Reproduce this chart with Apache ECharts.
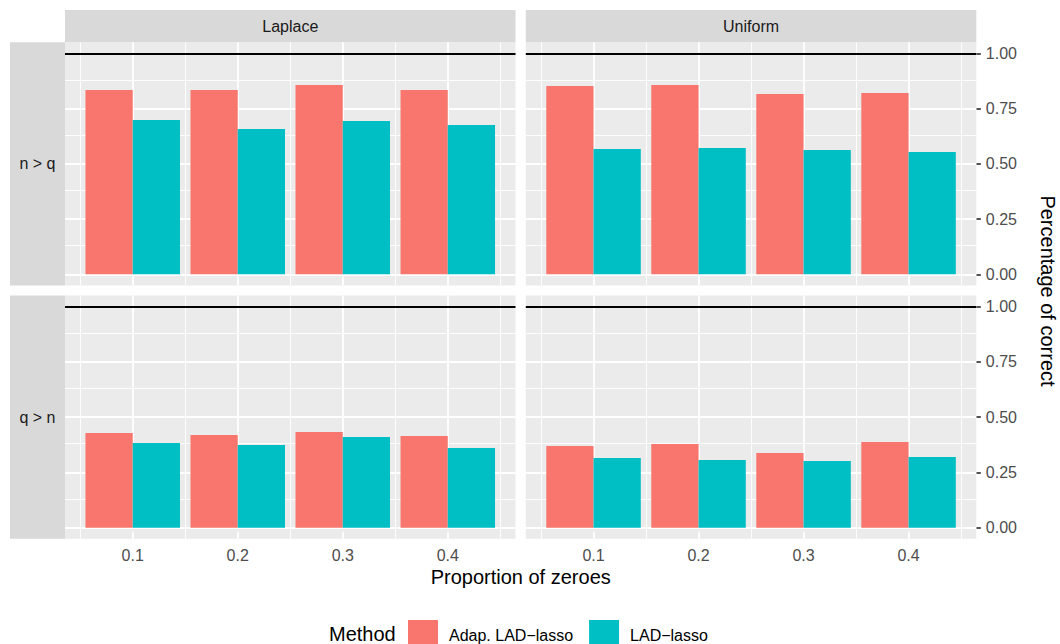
<!DOCTYPE html>
<html>
<head>
<meta charset="utf-8">
<script src="https://cdn.jsdelivr.net/npm/echarts@6/dist/echarts.min.js"></script>
<style>
html,body{margin:0;padding:0;background:#fff;}
#chart{width:1060px;height:644px;}
</style>
</head>
<body>
<div id="chart"></div>
<script>
// ---- data ----
const proportions = [0.1, 0.2, 0.3, 0.4];
const distributions = ['Laplace', 'Uniform'];
const regimes = ['n > q', 'q > n'];
const methods = ['Adap. LAD\u2212lasso', 'LAD\u2212lasso'];
const adapLaplaceNq = [0.834, 0.834, 0.857, 0.834];
const ladLaplaceNq = [0.698, 0.658, 0.694, 0.676];
const adapUniformNq = [0.852, 0.857, 0.816, 0.821];
const ladUniformNq = [0.567, 0.572, 0.563, 0.554];
const adapLaplaceQn = [0.428, 0.419, 0.433, 0.415];
const ladLaplaceQn = [0.383, 0.374, 0.410, 0.360];
const adapUniformQn = [0.370, 0.379, 0.338, 0.388];
const ladUniformQn = [0.315, 0.306, 0.302, 0.320];
const yTicks = [0, 0.25, 0.5, 0.75, 1];
const yMinorTicks = [0.125, 0.375, 0.625, 0.875];
const xMinorTicks = [0.05, 0.15, 0.25, 0.35, 0.45];
const referenceLine = 1;

// ---- layout / style ----
const colors = ['#F8766D', '#00BFC4'];
const FONT = '"Liberation Sans", Arial, Helvetica, sans-serif';
const panels = [
  {left: 65, top: 42.3, dist: 0, reg: 0, adap: adapLaplaceNq, lad: ladLaplaceNq},
  {left: 525.8, top: 42.3, dist: 1, reg: 0, adap: adapUniformNq, lad: ladUniformNq},
  {left: 65, top: 295.6, dist: 0, reg: 1, adap: adapLaplaceQn, lad: ladLaplaceQn},
  {left: 525.8, top: 295.6, dist: 1, reg: 1, adap: adapUniformQn, lad: ladUniformQn}
];
const PW = 450.5, PH = 243.1;
const halfDodge = 0.045;

const grids = [], xAxes = [], yAxes = [], series = [], graphics = [];

panels.forEach((p, i) => {
  grids.push({left: p.left, top: p.top, width: PW, height: PH, show: true,
    backgroundColor: '#EBEBEB', borderWidth: 0, containLabel: false});
  const bottomRow = p.reg === 1;
  const rightCol = p.dist === 1;
  xAxes.push({
    type: 'value', gridIndex: i, min: 0.0355, max: 0.4645,
    axisLine: {show: false},
    splitLine: {show: false},
    axisTick: {show: bottomRow, customValues: proportions, length: 4.5,
      lineStyle: {color: '#333333', width: 1.7}},
    axisLabel: {show: bottomRow, customValues: proportions, margin: 8.5,
      fontFamily: FONT, fontSize: 16, color: '#4D4D4D',
      formatter: v => String(Math.round(v * 10) / 10)}
  });
  yAxes.push({
    type: 'value', gridIndex: i, min: -0.05, max: 1.05, position: 'right',
    axisLine: {show: false},
    splitLine: {show: false},
    axisTick: {show: rightCol, customValues: yTicks, length: 4.5,
      lineStyle: {color: '#333333', width: 1.7}},
    axisLabel: {show: rightCol, customValues: yTicks, margin: 9.5,
      fontFamily: FONT, fontSize: 16, color: '#4D4D4D',
      formatter: v => v.toFixed(2)}
  });

  // grid lines (beneath bars)
  const gl = [];
  yMinorTicks.forEach(v => gl.push({yAxis: v, lineStyle: {color: '#FFFFFF', width: 0.9}}));
  xMinorTicks.forEach(v => gl.push({xAxis: v, lineStyle: {color: '#FFFFFF', width: 0.9}}));
  yTicks.forEach(v => gl.push({yAxis: v, lineStyle: {color: '#FFFFFF', width: 1.8}}));
  proportions.forEach(v => gl.push({xAxis: v, lineStyle: {color: '#FFFFFF', width: 1.8}}));
  series.push({
    type: 'line', name: 'grid' + i, xAxisIndex: i, yAxisIndex: i, data: [], z: 1,
    silent: true, animation: false,
    markLine: {silent: true, symbol: ['none', 'none'], animation: false, z: 1,
      label: {show: false}, lineStyle: {type: 'solid'}, data: gl}
  });

  [[p.adap, -1], [p.lad, 1]].forEach(([vals, side], m) => {
    series.push({
      type: 'custom', name: methods[m], xAxisIndex: i, yAxisIndex: i, z: 3,
      animation: false, itemStyle: {color: colors[m]},
      data: proportions.map((x, k) => [x, vals[k]]),
      renderItem: (params, api) => {
        const x = api.value(0), y = api.value(1);
        const x0 = side < 0 ? x - halfDodge : x;
        const x1 = side < 0 ? x : x + halfDodge;
        const a = api.coord([x0, y]);
        const b = api.coord([x1, 0]);
        return {type: 'rect', shape: {x: a[0], y: a[1], width: b[0] - a[0], height: b[1] - a[1]},
          style: {fill: colors[m]}};
      }
    });
  });

  // reference line at 1 (hline)
  series.push({
    type: 'line', name: 'ref' + i, xAxisIndex: i, yAxisIndex: i, data: [], z: 5,
    silent: true, animation: false,
    markLine: {silent: true, symbol: ['none', 'none'], animation: false, z: 5,
      label: {show: false},
      lineStyle: {type: 'solid', color: '#000000', width: 1.8},
      data: [{yAxis: referenceLine}]}
  });
});

// strips
distributions.forEach((d, j) => {
  const left = panels[j].left;
  graphics.push({type: 'rect', shape: {x: left, y: 10, width: PW, height: 32.3},
    style: {fill: '#D9D9D9'}, silent: true});
  graphics.push({type: 'text', x: left + PW / 2, y: 26.5,
    style: {text: d, fill: '#1A1A1A', font: '16px ' + FONT, align: 'center', verticalAlign: 'middle'}, silent: true});
});
regimes.forEach((r, j) => {
  const top = panels[j * 2].top;
  graphics.push({type: 'rect', shape: {x: 10, y: top, width: 55, height: PH},
    style: {fill: '#D9D9D9'}, silent: true});
  graphics.push({type: 'text', x: 37.5, y: top + PH / 2,
    style: {text: r, fill: '#1A1A1A', font: '16px ' + FONT, align: 'center', verticalAlign: 'middle'}, silent: true});
});
// axis titles
graphics.push({type: 'text', x: 520.7, y: 577,
  style: {text: 'Proportion of zeroes', fill: '#000000', font: '20px ' + FONT, align: 'center', verticalAlign: 'middle'}, silent: true});
graphics.push({type: 'text', x: 1048, y: 291, rotation: -Math.PI / 2,
  style: {text: 'Percentage of correct', fill: '#000000', font: '20px ' + FONT, align: 'center', verticalAlign: 'middle'}, silent: true});
// legend title
graphics.push({type: 'text', x: 329, y: 634,
  style: {text: 'Method', fill: '#000000', font: '20px ' + FONT, align: 'left', verticalAlign: 'middle'}, silent: true});

const chart = echarts.init(document.getElementById('chart'), null, {renderer: 'svg', width: 1060, height: 644});
chart.setOption({
  animation: false,
  backgroundColor: '#FFFFFF',
  grid: grids,
  xAxis: xAxes,
  yAxis: yAxes,
  legend: {
    data: methods, left: 408, top: 620, orient: 'horizontal', padding: 0,
    icon: 'rect', itemWidth: 30, itemHeight: 30, itemGap: 16,
    selectedMode: false,
    formatter: name => '{g|}{n|' + name + '}',
    textStyle: {fontFamily: FONT, fontSize: 16, color: '#000000',
      rich: {g: {width: 6, height: 16}, n: {fontFamily: FONT, fontSize: 16, color: '#000000', height: 16, lineHeight: 16}}}
  },
  graphic: graphics,
  series: series
});
</script>
</body>
</html>
